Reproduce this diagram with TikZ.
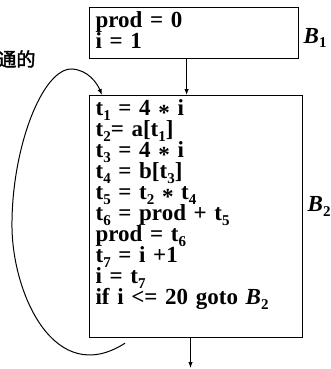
\documentclass[tikz,border=0pt]{standalone}
\usepackage{fontspec}
\setmainfont[WordSpace=0.7]{Liberation Serif}
\newfontfamily\cjk[FakeBold=2]{Noto Sans CJK SC}
\usetikzlibrary{positioning,arrows.meta}

\newcommand{\ix}[1]{\raisebox{-4.5pt}{\fontsize{15}{15}\selectfont\upshape #1}}
\newcommand{\mul}{\raisebox{-5pt}{*}}

\begin{document}
\begin{tikzpicture}[x=1pt, y=-1pt, line width=1pt,
  block/.style={draw, line width=1.2pt, anchor=north west, align=left,
    inner xsep=6pt, inner ysep=4pt, text height=16pt,
    font=\fontsize{23}{21}\selectfont\bfseries},
  blabel/.style={inner sep=0pt, font=\fontsize{23}{23}\selectfont\bfseries\itshape},
  flow/.style={-{Latex[length=6pt,width=4.5pt]}}]
\useasboundingbox (0,0) rectangle (330,369);

% the two basic blocks
\node[block, text width=197pt, text depth=27pt] (b1) at (89,7) {prod = 0\\ i = 1};
\node[block, text width=201pt, text depth=218pt] (b2) at (89,95) {%
  t\ix{1} = 4 \mul{} i\\
  t\ix{2}= a[t\ix{1}]\\
  t\ix{3} = 4 \mul{} i\\
  t\ix{4} = b[t\ix{3}]\\
  t\ix{5} = t\ix{2} \mul{} t\ix{4}\\
  t\ix{6} = prod + t\ix{5}\\
  prod = t\ix{6}\\
  t\ix{7} = i +1\\
  i = t\ix{7}\\
  if i <= 20 goto \textit{B}\ix{2}};

\node[blabel, right=4pt of b1, yshift=-5pt] (l1) {B\ix{1}};
\node[blabel, right=4pt of b2, yshift=10pt] (l2) {B\ix{2}};

\node[inner sep=0pt, anchor=east, font=\cjk\fontsize{19}{19}\selectfont] (note) at (36,59) {通的};

% flow edges
\coordinate (exit) at (190.5,368);
\draw[flow] ([xshift=-7.5pt]b1.south) -- ([xshift=-7.5pt]b1.south |- b2.north);
\draw[flow] (b2.south -| exit) -- (exit);

% back edge B2 -> B2
\coordinate (back) at ([xshift=36pt,yshift=-5pt]b2.south west);
\draw[flow] (back) .. controls (55,388) and (13,295) .. (12,228)
  .. controls (11,150) and (42,68) .. (72,69)
  .. controls (88,70) and (97,83) .. ([xshift=13pt]b2.north west);
\end{tikzpicture}
\end{document}
